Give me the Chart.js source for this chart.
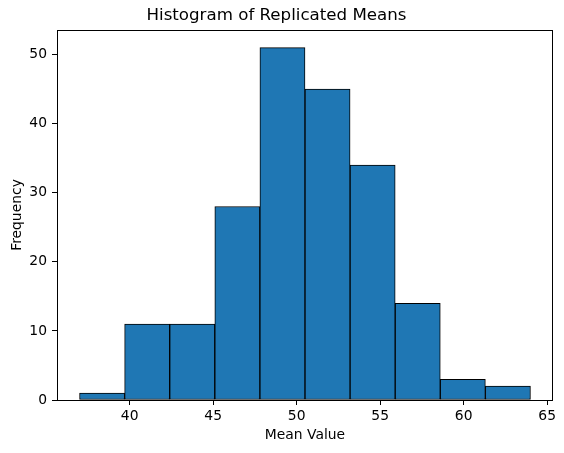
<!DOCTYPE html>
<html><head><meta charset="utf-8">
<script src="https://cdn.jsdelivr.net/npm/chart.js@4"></script>
<style>html,body{margin:0;padding:0;background:#fff}#wrap{width:564px;height:453px}</style>
</head><body><div id="wrap"><canvas id="c" width="564" height="453"></canvas></div>
<script>
const binEdges = [37.0, 39.7, 42.4, 45.1, 47.8, 50.5, 53.2, 55.9, 58.6, 61.3, 64.0];
const counts = [1, 11, 11, 28, 51, 45, 34, 14, 3, 2];
const xTicks = [40, 45, 50, 55, 60, 65];
const yTicks = [0, 10, 20, 30, 40, 50];
const titleText = 'Histogram of Replicated Means';
const xLabel = 'Mean Value';
const yLabel = 'Frequency';

const points = counts.map((c, i) => ({ x: (binEdges[i] + binEdges[i + 1]) / 2, y: c }));
const span = binEdges[binEdges.length - 1] - binEdges[0];
const xMin = binEdges[0] - 0.05 * span;
const xMax = binEdges[binEdges.length - 1] + 0.05 * span;
const yMax = Math.max(...counts) * 1.05;

const FONT = 'DejaVu Sans';
const frame = {
  id: 'frame',
  afterDatasetsDraw(chart) {
    const { ctx, chartArea: a } = chart;
    ctx.save();
    ctx.strokeStyle = '#000';
    ctx.lineWidth = 1;
    ctx.strokeRect(Math.round(a.left) + 0.5, Math.round(a.top) + 0.5, Math.round(a.right - a.left) - 1, Math.round(a.bottom - a.top));
    ctx.restore();
  }
};

new Chart(document.getElementById('c'), {
  type: 'bar',
  data: {
    datasets: [{
      data: points,
      backgroundColor: '#1f77b4',
      borderColor: '#000',
      borderWidth: 1,
      borderSkipped: false,
      barPercentage: 1,
      categoryPercentage: 1
    }]
  },
  options: {
    responsive: false,
    animation: false,
    devicePixelRatio: 1,
    layout: { padding: { left: 0, right: 11, top: 0, bottom: 0 } },
    plugins: {
      legend: { display: false },
      tooltip: { enabled: false },
      title: {
        display: true,
        text: titleText,
        color: '#000',
        font: { family: FONT, size: 16.67, weight: 'normal', lineHeight: 1.2 },
        padding: { top: 6, bottom: 4 }
      }
    },
    scales: {
      x: {
        type: 'linear',
        min: xMin,
        max: xMax,
        offset: false,
        afterBuildTicks: s => { s.ticks = xTicks.map(v => ({ value: v })); },
        afterFit: s => { s.height = 53; },
        grid: { display: true, offset: false, drawOnChartArea: false, drawTicks: true, tickLength: 5, color: '#000', lineWidth: 1 },
        border: { display: false },
        ticks: { color: '#000', font: { family: FONT, size: 13.89 }, padding: 3, maxRotation: 0, autoSkip: false },
        title: { display: true, text: xLabel, color: '#000', font: { family: FONT, size: 13.89, lineHeight: 1.2 }, padding: { top: 0, bottom: 9 } }
      },
      y: {
        min: 0,
        max: yMax,
        afterBuildTicks: s => { s.ticks = yTicks.map(v => ({ value: v })); },
        afterFit: s => { s.width = 57; },
        grid: { display: true, offset: false, drawOnChartArea: false, drawTicks: true, tickLength: 5, color: '#000', lineWidth: 1 },
        border: { display: false },
        ticks: { color: '#000', font: { family: FONT, size: 13.89 }, padding: 5 },
        title: { display: true, text: yLabel, color: '#000', font: { family: FONT, size: 13.89, lineHeight: 1.2 }, padding: { top: 9, bottom: 0 } }
      }
    }
  },
  plugins: [frame]
});
</script></body></html>
